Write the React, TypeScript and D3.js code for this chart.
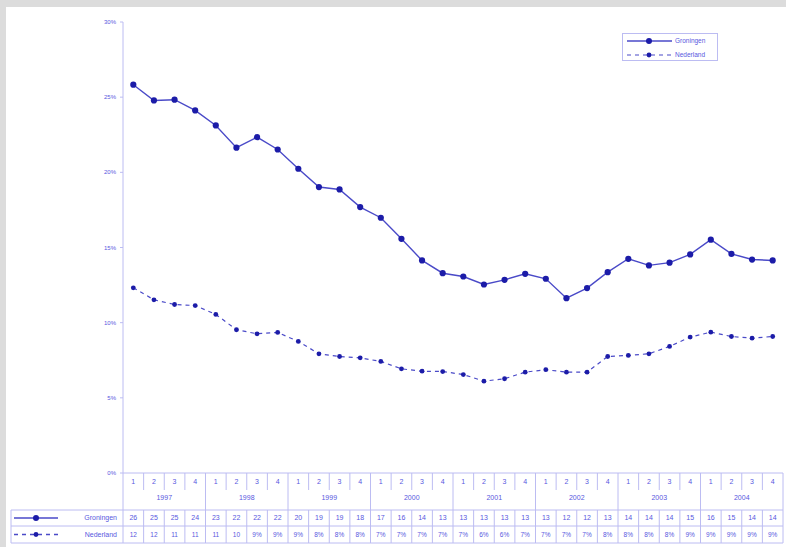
import React from "react";
import * as d3 from "d3";

const years = ["1997", "1998", "1999", "2000", "2001", "2002", "2003", "2004"];
const quarters = ["1", "2", "3", "4"];

const groningen = [
  25.83, 24.78, 24.83, 24.12,
  23.12, 21.64, 22.34, 21.52,
  20.24, 19.02, 18.86, 17.69,
  16.98, 15.58, 14.14, 13.29,
  13.07, 12.54, 12.85, 13.25,
  12.92, 11.63, 12.3, 13.36,
  14.25, 13.81, 13.99, 14.54,
  15.52, 14.58, 14.2, 14.14,
];
const nederland = [
  12.32, 11.52, 11.21, 11.14,
  10.55, 9.53, 9.26, 9.35,
  8.75, 7.93, 7.75, 7.66,
  7.42, 6.93, 6.77, 6.75,
  6.55, 6.11, 6.27, 6.71,
  6.87, 6.71, 6.71, 7.75,
  7.82, 7.93, 8.42, 9.04,
  9.37, 9.08, 8.97, 9.08,
];
const groningenLabels = [
  "26", "25", "25", "24", "23", "22", "22", "22",
  "20", "19", "19", "18", "17", "16", "14", "13",
  "13", "13", "13", "13", "13", "12", "12", "13",
  "14", "14", "14", "15", "16", "15", "14", "14",
];
const nederlandLabels = [
  "12", "12", "11", "11", "11", "10", "9%", "9%",
  "9%", "8%", "8%", "8%", "7%", "7%", "7%", "7%",
  "7%", "6%", "6%", "7%", "7%", "7%", "7%", "8%",
  "8%", "8%", "8%", "9%", "9%", "9%", "9%", "9%",
];
const yTicks = [0, 5, 10, 15, 20, 25, 30];
const seriesNames = ["Groningen", "Nederland"];

const W = 786;
const H = 547;
const TEXT = "#5858e0";
const GRID = "#bcbcf2";
const LINE = "#4a4ac8";
const MARK = "#1c1ca8";
const FONT = "'Liberation Sans', Arial, sans-serif";

export default function App() {
  const keys = years.flatMap((y) => quarters.map((q) => `${y}-${q}`));
  const x = d3.scaleBand<string>().domain(keys).range([123, 783]).padding(0);
  const y = d3.scaleLinear().domain([0, 30]).range([473, 22]);
  const cx = (i: number) => (x(keys[i]) as number) + x.bandwidth() / 2;
  const line = d3
    .line<number>()
    .x((_, i) => cx(i))
    .y((d) => y(d));

  const top = 473;
  const qBottom = 490;
  const hdrBottom = 510;
  const r1Bottom = 526;
  const r2Bottom = 543;
  const left = 11;
  const bw = x.bandwidth();
  const right = 783;

  const legendCell = (yy: number, dashed: boolean) => (
    <g>
      <line x1={14} x2={58} y1={yy} y2={yy} stroke={LINE} strokeWidth={1.3}
        strokeDasharray={dashed ? "4 4" : undefined} />
      <circle cx={36} cy={yy} r={dashed ? 2.4 : 3} fill={MARK} />
    </g>
  );

  return (
    <svg width={W} height={H} style={{ position: "absolute", left: 0, top: 0 }}
      fontFamily={FONT}>
      <rect x={0} y={0} width={W} height={H} fill="#dcdcdc" />
      <rect x={6} y={7} width={W - 6} height={H - 7} fill="#ffffff" />

      {/* y axis */}
      <line x1={123} x2={123} y1={y(30)} y2={top} stroke={GRID} strokeWidth={1} />
      {yTicks.map((t) => (
        <g key={t}>
          <line x1={120} x2={123} y1={y(t)} y2={y(t)} stroke={GRID} />
          <text x={116} y={y(t)} dy="0.35em" textAnchor="end" fontSize={6} fill={TEXT}>
            {t}%
          </text>
        </g>
      ))}

      {/* series */}
      <path d={line(groningen) || ""} fill="none" stroke={LINE} strokeWidth={1.4} />
      {groningen.map((v, i) => (
        <circle key={"g" + i} cx={cx(i)} cy={y(v)} r={3.1} fill={MARK} />
      ))}
      <path d={line(nederland) || ""} fill="none" stroke={LINE} strokeWidth={1.2}
        strokeDasharray="4 4" />
      {nederland.map((v, i) => (
        <circle key={"n" + i} cx={cx(i)} cy={y(v)} r={2.4} fill={MARK} />
      ))}

      {/* legend */}
      <rect x={622.5} y={33.5} width={95} height={27} fill="#fff" stroke={GRID} />
      <line x1={627} x2={672} y1={41} y2={41} stroke={LINE} strokeWidth={1.3} />
      <circle cx={649} cy={41} r={3} fill={MARK} />
      <text x={675} y={41} dy="0.35em" fontSize={6.5} fill={TEXT}>{seriesNames[0]}</text>
      <line x1={627} x2={672} y1={55} y2={55} stroke={LINE} strokeWidth={1.2}
        strokeDasharray="4 4" />
      <circle cx={649} cy={55} r={2.4} fill={MARK} />
      <text x={675} y={55} dy="0.35em" fontSize={6.5} fill={TEXT}>{seriesNames[1]}</text>

      {/* data table: header */}
      <line x1={123} x2={right} y1={top} y2={top} stroke={GRID} />
      {keys.map((k, i) => (
        <g key={"q" + k}>
          <line x1={x(k)} x2={x(k)} y1={top} y2={i % 4 === 0 ? hdrBottom : qBottom}
            stroke={GRID} />
          <text x={cx(i)} y={482} dy="0.35em" textAnchor="middle" fontSize={7} fill={TEXT}>
            {quarters[i % 4]}
          </text>
        </g>
      ))}
      <line x1={right} x2={right} y1={top} y2={r2Bottom} stroke={GRID} />
      {years.map((yr, j) => (
        <text key={yr} x={(x(`${yr}-1`) as number) + bw * 2} y={498} dy="0.35em"
          textAnchor="middle" fontSize={7} fill={TEXT}>
          {yr}
        </text>
      ))}

      {/* data table: rows */}
      <line x1={left} x2={right} y1={hdrBottom} y2={hdrBottom} stroke={GRID} />
      <line x1={left} x2={right} y1={r1Bottom} y2={r1Bottom} stroke={GRID} />
      <line x1={left} x2={right} y1={r2Bottom} y2={r2Bottom} stroke={GRID} />
      <line x1={left} x2={left} y1={hdrBottom} y2={r2Bottom} stroke={GRID} />
      {keys.map((k, i) => (
        <g key={"r" + k}>
          <line x1={x(k)} x2={x(k)} y1={hdrBottom} y2={r2Bottom} stroke={GRID} />
          <text x={cx(i)} y={(hdrBottom + r1Bottom) / 2} dy="0.35em" textAnchor="middle"
            fontSize={7} fill={TEXT}>
            {groningenLabels[i]}
          </text>
          <text x={cx(i)} y={(r1Bottom + r2Bottom) / 2} dy="0.35em" textAnchor="middle"
            fontSize={6.5} fill={TEXT}>
            {nederlandLabels[i]}
          </text>
        </g>
      ))}
      {legendCell((hdrBottom + r1Bottom) / 2, false)}
      {legendCell((r1Bottom + r2Bottom) / 2, true)}
      <text x={117} y={(hdrBottom + r1Bottom) / 2} dy="0.35em" textAnchor="end"
        fontSize={7} fill={TEXT}>{seriesNames[0]}</text>
      <text x={117} y={(r1Bottom + r2Bottom) / 2} dy="0.35em" textAnchor="end"
        fontSize={7} fill={TEXT}>{seriesNames[1]}</text>
    </svg>
  );
}
